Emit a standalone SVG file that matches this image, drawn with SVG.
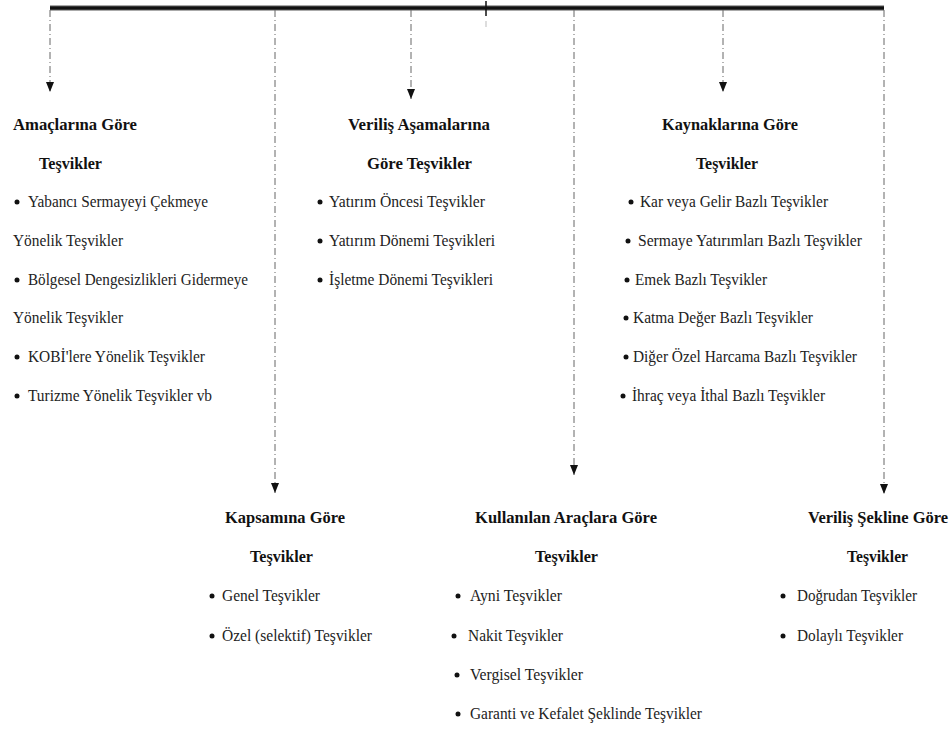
<svg xmlns="http://www.w3.org/2000/svg" width="950" height="731" viewBox="0 0 950 731">
<style>
text{font-family:"Liberation Serif","Times New Roman",serif;font-size:16px;fill:#222;}
.h{font-weight:bold;fill:#111;}
.b{fill:#111;}
.dash{stroke:#666;stroke-width:1;stroke-dasharray:7 3 1 3;fill:none;}
</style>
<defs>
<marker id="arr" markerUnits="userSpaceOnUse" markerWidth="10" markerHeight="8" viewBox="0 0 10 8" refX="10" refY="4" orient="auto">
<path d="M0,0 L10,4 L0,8 z" fill="#111"/>
</marker>
</defs>
<rect width="950" height="731" fill="#fff"/>
<g id="connectors">
<line x1="50" y1="8" x2="884" y2="8" stroke="#aaa" stroke-width="6"/>
<line x1="50" y1="8" x2="884" y2="8" stroke="#111" stroke-width="3.5"/>
<line x1="486" y1="1" x2="486" y2="16" stroke="#111" stroke-width="1.5"/>
<line x1="486" y1="21" x2="486" y2="27" stroke="#bbb" stroke-width="1"/>
<line class="dash" x1="50" y1="10" x2="50" y2="92" marker-end="url(#arr)"/>
<line class="dash" x1="275" y1="10" x2="275" y2="493" marker-end="url(#arr)"/>
<line class="dash" x1="411" y1="10" x2="411" y2="99" marker-end="url(#arr)"/>
<line class="dash" x1="574" y1="10" x2="574" y2="475" marker-end="url(#arr)"/>
<line class="dash" x1="723" y1="10" x2="723" y2="92" marker-end="url(#arr)"/>
<line class="dash" x1="884" y1="10" x2="884" y2="494" marker-end="url(#arr)"/>
</g>
<g id="amaclarina">
<text class="h" x="13" y="130" textLength="124" lengthAdjust="spacingAndGlyphs">Amaçlarına Göre</text>
<text class="h" x="39" y="169" textLength="63" lengthAdjust="spacingAndGlyphs">Teşvikler</text>
<circle class="b" cx="17" cy="202" r="2.5"/>
<text x="28" y="207" textLength="180" lengthAdjust="spacingAndGlyphs">Yabancı Sermayeyi Çekmeye</text>
<text x="13" y="246" textLength="110" lengthAdjust="spacingAndGlyphs">Yönelik Teşvikler</text>
<circle class="b" cx="17" cy="280" r="2.5"/>
<text x="28" y="285" textLength="220" lengthAdjust="spacingAndGlyphs">Bölgesel Dengesizlikleri Gidermeye</text>
<text x="13" y="323" textLength="110" lengthAdjust="spacingAndGlyphs">Yönelik Teşvikler</text>
<circle class="b" cx="17" cy="357" r="2.5"/>
<text x="28" y="362" textLength="177" lengthAdjust="spacingAndGlyphs">KOBİ'lere Yönelik Teşvikler</text>
<circle class="b" cx="17" cy="396" r="2.5"/>
<text x="28" y="401" textLength="184" lengthAdjust="spacingAndGlyphs">Turizme Yönelik Teşvikler vb</text>
</g>
<g id="verilis-asamalarina">
<text class="h" x="348" y="130" textLength="142" lengthAdjust="spacingAndGlyphs">Veriliş Aşamalarına</text>
<text class="h" x="367" y="169" textLength="105" lengthAdjust="spacingAndGlyphs">Göre Teşvikler</text>
<circle class="b" cx="320" cy="202" r="2.5"/>
<text x="329" y="207" textLength="156" lengthAdjust="spacingAndGlyphs">Yatırım Öncesi Teşvikler</text>
<circle class="b" cx="320" cy="241" r="2.5"/>
<text x="329" y="246" textLength="166" lengthAdjust="spacingAndGlyphs">Yatırım Dönemi Teşvikleri</text>
<circle class="b" cx="320" cy="280" r="2.5"/>
<text x="329" y="285" textLength="164" lengthAdjust="spacingAndGlyphs">İşletme Dönemi Teşvikleri</text>
</g>
<g id="kaynaklarina">
<text class="h" x="662" y="130" textLength="136" lengthAdjust="spacingAndGlyphs">Kaynaklarına Göre</text>
<text class="h" x="696" y="169" textLength="62" lengthAdjust="spacingAndGlyphs">Teşvikler</text>
<circle class="b" cx="631" cy="202" r="2.5"/>
<text x="640" y="207" textLength="188" lengthAdjust="spacingAndGlyphs">Kar veya Gelir Bazlı Teşvikler</text>
<circle class="b" cx="628" cy="241" r="2.5"/>
<text x="638" y="246" textLength="224" lengthAdjust="spacingAndGlyphs">Sermaye Yatırımları Bazlı Teşvikler</text>
<circle class="b" cx="627" cy="280" r="2.5"/>
<text x="635" y="285" textLength="132" lengthAdjust="spacingAndGlyphs">Emek Bazlı Teşvikler</text>
<circle class="b" cx="626" cy="318" r="2.5"/>
<text x="633" y="323" textLength="180" lengthAdjust="spacingAndGlyphs">Katma Değer Bazlı Teşvikler</text>
<circle class="b" cx="626" cy="357" r="2.5"/>
<text x="633" y="362" textLength="224" lengthAdjust="spacingAndGlyphs">Diğer Özel Harcama Bazlı Teşvikler</text>
<circle class="b" cx="623" cy="396" r="2.5"/>
<text x="632" y="401" textLength="193" lengthAdjust="spacingAndGlyphs">İhraç veya İthal Bazlı Teşvikler</text>
</g>
<g id="kapsamina">
<text class="h" x="225" y="523" textLength="120" lengthAdjust="spacingAndGlyphs">Kapsamına Göre</text>
<text class="h" x="250" y="562" textLength="63" lengthAdjust="spacingAndGlyphs">Teşvikler</text>
<circle class="b" cx="212" cy="596" r="2.5"/>
<text x="222" y="601" textLength="98" lengthAdjust="spacingAndGlyphs">Genel Teşvikler</text>
<circle class="b" cx="212" cy="636" r="2.5"/>
<text x="222" y="641" textLength="150" lengthAdjust="spacingAndGlyphs">Özel (selektif) Teşvikler</text>
</g>
<g id="kullanilan-araclara">
<text class="h" x="475" y="523" textLength="182" lengthAdjust="spacingAndGlyphs">Kullanılan Araçlara Göre</text>
<text class="h" x="535" y="562" textLength="63" lengthAdjust="spacingAndGlyphs">Teşvikler</text>
<circle class="b" cx="458" cy="596" r="2.5"/>
<text x="470" y="601" textLength="92" lengthAdjust="spacingAndGlyphs">Ayni Teşvikler</text>
<circle class="b" cx="454" cy="636" r="2.5"/>
<text x="468" y="641" textLength="95" lengthAdjust="spacingAndGlyphs">Nakit Teşvikler</text>
<circle class="b" cx="457" cy="675" r="2.5"/>
<text x="470" y="680" textLength="113" lengthAdjust="spacingAndGlyphs">Vergisel Teşvikler</text>
<circle class="b" cx="458" cy="714" r="2.5"/>
<text x="470" y="719" textLength="232" lengthAdjust="spacingAndGlyphs">Garanti ve Kefalet Şeklinde Teşvikler</text>
</g>
<g id="verilis-sekline">
<text class="h" x="808" y="523" textLength="140" lengthAdjust="spacingAndGlyphs">Veriliş Şekline Göre</text>
<text class="h" x="847" y="562" textLength="61" lengthAdjust="spacingAndGlyphs">Teşvikler</text>
<circle class="b" cx="783" cy="596" r="2.5"/>
<text x="797" y="601" textLength="120" lengthAdjust="spacingAndGlyphs">Doğrudan Teşvikler</text>
<circle class="b" cx="783" cy="636" r="2.5"/>
<text x="797" y="641" textLength="106" lengthAdjust="spacingAndGlyphs">Dolaylı Teşvikler</text>
</g>
</svg>
